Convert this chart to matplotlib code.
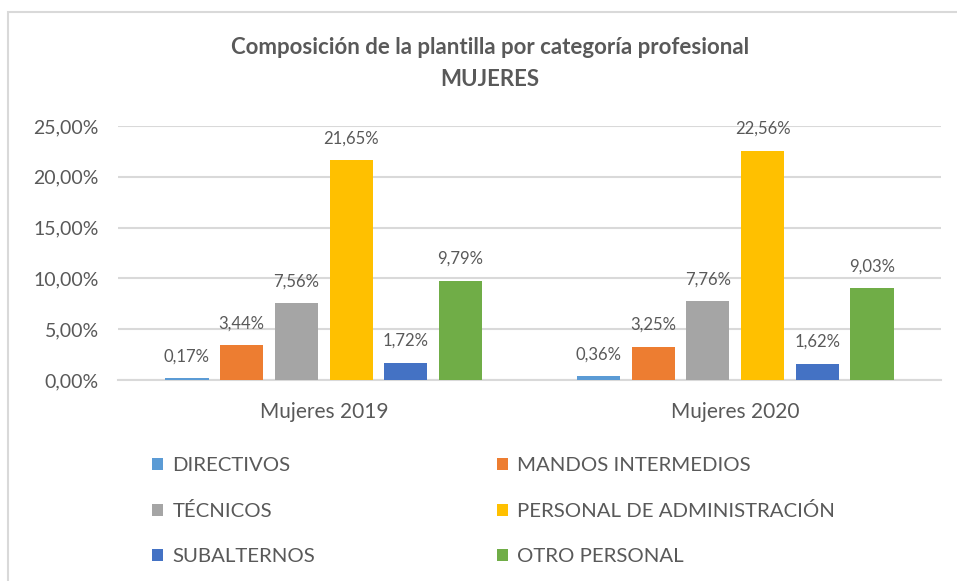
import matplotlib.pyplot as plt
import numpy as np
from matplotlib.patches import Rectangle
from matplotlib.ticker import FuncFormatter

plt.rcParams['font.family'] = ['Lato', 'DejaVu Sans']

# data
groups = ['Mujeres 2019', 'Mujeres 2020']
categories = ['DIRECTIVOS', 'MANDOS INTERMEDIOS', 'TÉCNICOS',
              'PERSONAL DE ADMINISTRACIÓN', 'SUBALTERNOS', 'OTRO PERSONAL']
values = {
    'DIRECTIVOS': [0.17, 0.36],
    'MANDOS INTERMEDIOS': [3.44, 3.25],
    'TÉCNICOS': [7.56, 7.76],
    'PERSONAL DE ADMINISTRACIÓN': [21.65, 22.56],
    'SUBALTERNOS': [1.72, 1.62],
    'OTRO PERSONAL': [9.79, 9.03],
}
colors = ['#5B9BD5', '#ED7D31', '#A5A5A5', '#FFC000', '#4472C4', '#70AD47']
yticks = [0, 5, 10, 15, 20, 25]

grey = '#595959'

fig = plt.figure(figsize=(9.57, 5.81), dpi=100)
ax = fig.add_axes([118/957, 201/581, (941-118)/957, 254/581])

x = np.arange(len(groups))
pitch = 0.133
width = 0.105
handles = []
for i, cat in enumerate(categories):
    pos = x + (i - 2.5) * pitch
    b = ax.bar(pos, values[cat], width, color=colors[i], label=cat, zorder=3)
    handles.append(b)
    for p, v in zip(pos, values[cat]):
        ax.annotate(f'{v:.2f}%'.replace('.', ','), (p, v), xytext=(0, 10),
                    textcoords='offset points', ha='center', va='bottom',
                    fontsize=12, color=grey)

ax.set_xlim(-0.5, 1.5)
ax.set_ylim(0, 25)
ax.set_yticks(yticks)
ax.yaxis.set_major_formatter(FuncFormatter(lambda v, _: f'{v:.2f}%'.replace('.', ',')))
ax.set_xticks(x)
ax.set_xticklabels(groups)
ax.tick_params(axis='y', length=0, pad=14, labelsize=14, labelcolor=grey)
ax.tick_params(axis='x', length=0, pad=16, labelsize=15, labelcolor=grey)
ax.grid(axis='y', color='#d9d9d9', linewidth=1.5, zorder=0)
for s in ['top', 'right', 'left']:
    ax.spines[s].set_visible(False)
ax.spines['bottom'].set_color('#d9d9d9')
ax.spines['bottom'].set_linewidth(1.5)

fig.text(490/957, 1 - 48/581, 'Composición de la plantilla por categoría profesional',
         ha='center', va='center', fontsize=16, fontweight='bold', color=grey)
fig.text(490/957, 1 - 80/581, 'MUJERES',
         ha='center', va='center', fontsize=16, fontweight='bold', color=grey)

# legend in row order: two columns
order = [0, 2, 4, 1, 3, 5]
leg = fig.legend([handles[k] for k in order], [categories[k] for k in order],
                 ncol=2, loc='upper left', bbox_to_anchor=(152/957, 1 - 457/581),
                 frameon=False, fontsize=14.7, handlelength=0.55, handleheight=0.55,
                 handletextpad=0.45, columnspacing=8.9, labelspacing=1.38,
                 borderaxespad=0, borderpad=0)
for t in leg.get_texts():
    t.set_color(grey)

fig.patches.append(Rectangle((8/957, -0.1), 1.1, 1 - 12/581 + 0.1,
                             transform=fig.transFigure, fill=False,
                             edgecolor='#d9d9d9', linewidth=1.5))

fig.savefig('out.png', dpi=100)
